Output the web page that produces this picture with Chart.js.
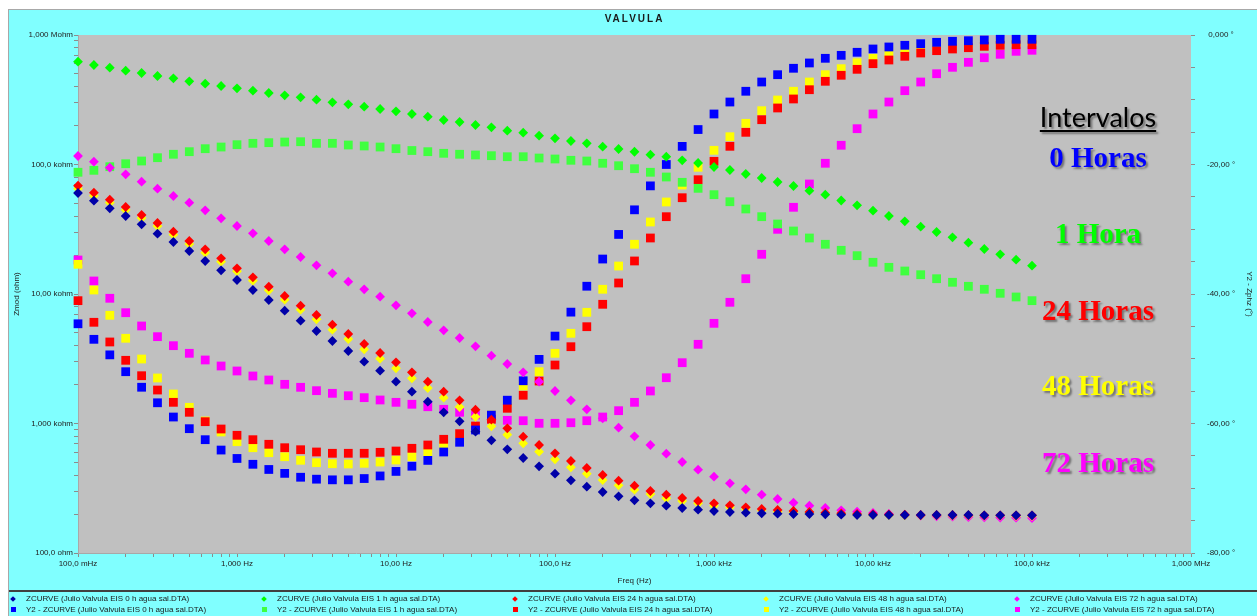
<!DOCTYPE html>
<html>
<head>
<meta charset="utf-8">
<title>VALVULA</title>
<script src="https://cdn.jsdelivr.net/npm/chart.js@4.4.1/dist/chart.umd.min.js"></script>
<style>
  html, body { margin: 0; padding: 0; background: #fff; }
  body { width: 1257px; height: 616px; position: relative; overflow: hidden; font-family: "Liberation Sans", Arial, sans-serif; }
  #frame { position: absolute; left: 8px; top: 9px; width: 1260px; height: 620px; background: #80ffff; border: 1px solid #a8a8a8; }
  #chart { position: absolute; left: 0; top: 0; }
  #sep { position: absolute; left: 9px; top: 590px; width: 1248px; height: 2px; background: #404040; }
  #legend { position: absolute; left: 0; top: 0; width: 1257px; height: 616px; pointer-events: none; }
  .txt { position: absolute; font-size: 8px; line-height: 10px; color: #1a1a1a; white-space: nowrap; }
  .mk { position: absolute; }
</style>
</head>
<body>
<div id="frame"></div>
<canvas id="chart" width="1257" height="591"></canvas>
<div id="sep"></div>
<div id="legend"></div>
<script>
// EIS sweep, 10 points per decade, 0.1 Hz .. 100 kHz
const freqHz = [0.1, 0.1259, 0.1585, 0.1995, 0.2512, 0.3162, 0.3981, 0.5012, 0.631, 0.7943,
  1, 1.259, 1.585, 1.995, 2.512, 3.162, 3.981, 5.012, 6.31, 7.943,
  10, 12.59, 15.85, 19.95, 25.12, 31.62, 39.81, 50.12, 63.1, 79.43,
  100, 125.9, 158.5, 199.5, 251.2, 316.2, 398.1, 501.2, 631, 794.3,
  1000, 1259, 1585, 1995, 2512, 3162, 3981, 5012, 6310, 7943,
  10000, 12589, 15849, 19953, 25119, 31623, 39811, 50119, 63096, 79433, 100000];

// |Z| in ohm
const zmod0h = [60250, 52540, 45890, 40020, 34520, 29210, 25200, 21480, 17980, 15240, 12830,
  10740, 8988, 7430, 6220, 5179, 4336, 3629, 3001, 2557, 2102,
  1761, 1474, 1220, 1040, 864.5, 742, 632, 541.5, 467.1, 409.7,
  364.2, 325.1, 295.8, 274, 255.2, 242, 231.9, 222.6, 216, 211,
  207.3, 204.8, 202.6, 201.2, 200.1, 200.1, 199.1, 197.7, 196.6, 196.6,
  196.6, 196.6, 196.6, 196.6, 196.6, 196.6, 195.5, 195.5, 195.5, 195.5];
const zmod1h = [622000, 586600, 559200, 530000, 508900, 482400, 463000, 439000, 420600, 403800, 387700,
  371500, 356600, 342400, 330400, 316500, 302200, 291700, 279500, 268300, 257600,
  245500, 234000, 220600, 212900, 201800, 193800, 182400, 176100, 166900, 159400,
  151900, 145800, 137200, 131700, 125500, 119100, 114900, 107700, 102700, 95660,
  90670, 84460, 78660, 73260, 68230, 62770, 58460, 52720, 48410, 43980,
  40020, 36420, 33090, 30120, 27400, 24900, 22260, 20260, 18400, 16540];
const zmod24h = [68590, 60570, 53480, 46960, 40740, 35340, 30280, 25660, 22140, 18870, 15790,
  13460, 11390, 9652, 8122, 6883, 5794, 4910, 4111, 3503, 2969,
  2486, 2102, 1761, 1511, 1278, 1070, 918.3, 790.9, 682.3, 588.8,
  513.3, 453.3, 400.2, 361.6, 330.9, 301.2, 282, 265.9, 252, 242,
  233.5, 225.4, 218.7, 214.8, 211, 207.3, 204.8, 202.6, 200.1, 199.1,
  198.4, 197.7, 196.6, 196.6, 196.6, 195.9, 195.5, 195.5, 195.5, 195.5];
const zmod48h = [65030, 57420, 50700, 44530, 38630, 33500, 28700, 24330, 20840, 17760, 14980,
  12670, 10680, 9036, 7565, 6376, 5300, 4494, 3741, 3166, 2669,
  2234, 1880, 1582, 1341, 1128, 951.5, 819.4, 703.2, 605.7, 529.2,
  459, 409.7, 366.2, 333.3, 308.2, 285.5, 264.5, 252, 242, 231.9,
  225.4, 218.7, 213.6, 208.4, 206.2, 203.7, 201.2, 199.1, 197.7, 196.6,
  195.9, 195.5, 194.9, 194.9, 194.1, 194.1, 193.8, 193.8, 193.1, 193.1];
const zmod72h = [116300, 105100, 94470, 84020, 73650, 65030, 57120, 50700, 44300, 38430, 33500,
  29420, 25660, 22140, 19310, 16660, 14450, 12450, 10870, 9533, 8178,
  7096, 6078, 5244, 4574, 3946, 3339, 2880, 2486, 2102, 1782,
  1511, 1287, 1097, 928.3, 796.6, 682.3, 584.6, 504.3, 439.8, 388.3,
  345.2, 310.4, 282, 261.2, 244.6, 231.9, 222.6, 213.6, 208.4, 203.7,
  200.1, 196.6, 194.1, 192.1, 190.7, 189.7, 188.7, 188, 187.4, 186.3];

// phase in degrees
const phase0h = [-44.6, -47.0, -49.4, -52.0, -54.4, -56.8, -59.0, -60.8, -62.5, -64.1, -65.4,
  -66.3, -67.1, -67.7, -68.3, -68.6, -68.7, -68.7, -68.5, -68.1, -67.4,
  -66.6, -65.7, -64.4, -62.9, -61.0, -58.7, -56.4, -53.4, -50.1, -46.5,
  -42.8, -38.8, -34.6, -30.8, -27.0, -23.3, -20.0, -17.2, -14.6, -12.2,
  -10.35, -8.69, -7.26, -6.13, -5.14, -4.32, -3.6, -3.14, -2.67, -2.16,
  -1.85, -1.59, -1.34, -1.13, -0.97, -0.88, -0.77, -0.66, -0.66, -0.66];
const phase1h = [-21.2, -20.9, -20.34, -19.88, -19.46, -18.95, -18.42, -18.02, -17.56, -17.3, -16.94,
  -16.73, -16.63, -16.53, -16.48, -16.73, -16.73, -16.99, -17.14, -17.3, -17.56,
  -17.84, -18.02, -18.27, -18.42, -18.53, -18.64, -18.8, -18.8, -19.0, -19.15,
  -19.35, -19.46, -19.81, -20.19, -20.65, -21.2, -21.93, -22.75, -23.68, -24.66,
  -25.75, -26.87, -28.06, -29.19, -30.27, -31.35, -32.32, -33.25, -34.08, -35.1,
  -35.88, -36.45, -37.02, -37.64, -38.19, -38.81, -39.27, -39.89, -40.46, -41.03];
const phase24h = [-41.03, -44.37, -47.41, -50.24, -52.62, -54.83, -56.73, -58.27, -59.72, -60.85, -61.82,
  -62.5, -63.21, -63.74, -64.05, -64.4, -64.6, -64.6, -64.6, -64.45, -64.25,
  -63.83, -63.32, -62.44, -61.57, -60.39, -59.35, -57.65, -55.64, -53.44, -50.97,
  -48.14, -45.05, -41.59, -38.3, -34.9, -31.35, -28.06, -25.13, -22.35, -19.51,
  -17.19, -15.03, -13.08, -11.27, -9.88, -8.45, -7.15, -6.22, -5.3, -4.43,
  -3.86, -3.29, -2.78, -2.42, -2.16, -1.96, -1.75, -1.59, -1.5, -1.5];
const phase48h = [-35.41, -39.38, -43.29, -46.84, -50.04, -52.97, -55.44, -57.5, -59.61, -61.31, -62.81,
  -63.74, -64.51, -65.13, -65.68, -66.05, -66.21, -66.25, -66.15, -65.95, -65.64,
  -65.13, -64.35, -63.37, -62.08, -60.54, -58.69, -56.83, -54.21, -52.0, -49.16,
  -46.07, -42.83, -39.27, -35.68, -32.32, -28.88, -25.79, -23.17, -20.43, -17.81,
  -15.71, -13.64, -11.69, -10.04, -8.69, -7.26, -6.13, -5.2, -4.28, -3.6,
  -2.93, -2.52, -2.12, -1.85, -1.59, -1.39, -1.24, -1.13, -1.08, -1.08];
const phase72h = [-34.75, -37.99, -40.66, -42.89, -44.94, -46.59, -47.98, -49.16, -50.19, -51.12, -51.89,
  -52.66, -53.28, -53.95, -54.41, -54.93, -55.34, -55.71, -56.01, -56.37, -56.73,
  -57.03, -57.41, -57.81, -58.27, -58.69, -59.15, -59.51, -59.57, -59.97, -59.97,
  -59.88, -59.57, -59.0, -58.02, -56.73, -54.98, -52.93, -50.61, -47.77, -44.53,
  -41.28, -37.64, -33.87, -30.01, -26.61, -23.01, -19.81, -17.03, -14.47, -12.2,
  -10.35, -8.6, -7.26, -5.98, -4.99, -4.22, -3.51, -2.98, -2.52, -2.36];

const hours = ['0', '1', '24', '48', '72'];
const intervalLabels = ['0 Horas', '1 Hora', '24 Horas', '48 Horas', '72 Horas'];
const xTickLabels = ['100,0 mHz', '1,000 Hz', '10,00 Hz', '100,0 Hz', '1,000 kHz', '10,00 kHz', '100,0 kHz', '1,000 MHz'];
const zTickLabels = ['100,0 ohm', '1,000 kohm', '10,00 kohm', '100,0 kohm', '1,000 Mohm'];
const phaseTickLabels = ['-80,00 °', '-60,00 °', '-40,00 °', '-20,00 °', '0,000 °'];

const zmodSets = [zmod0h, zmod1h, zmod24h, zmod48h, zmod72h];
const phaseSets = [phase0h, phase1h, phase24h, phase48h, phase72h];
const zColors = ['#0000a8', '#00ff00', '#ff0000', '#ffff00', '#ff00ff'];
const phColors = ['#0000ff', '#40ff40', '#ff0000', '#ffff00', '#ff00ff'];
const textColors = ['#0000ff', '#00ff00', '#ff0000', '#ffff00', '#ff00ff'];

Chart.defaults.font.family = '"Liberation Sans", Arial, sans-serif';
Chart.defaults.font.size = 8;
Chart.defaults.color = '#222222';

function fileName(h) {
  return '(Julio Valvula EIS ' + h + ' h agua sal.DTA)';
}

function series(values, label, color, style, radius, axis) {
  return {
    label: label,
    data: freqHz.map((f, i) => ({ x: f, y: values[i] })),
    yAxisID: axis,
    showLine: false,
    pointStyle: style,
    pointRadius: radius,
    pointHoverRadius: radius,
    pointBackgroundColor: color,
    pointBorderColor: color,
    pointBorderWidth: 0,
    backgroundColor: color,
    borderColor: color,
    clip: false
  };
}

// first dataset ends up on top, so |Z| diamonds go first, then phase squares
const datasets = [];
hours.forEach((h, i) => {
  datasets.push(series(zmodSets[i], 'ZCURVE ' + fileName(h), zColors[i], 'rectRot', 4.9, 'y'));
});
hours.forEach((h, i) => {
  datasets.push(series(phaseSets[i], 'Y2 - ZCURVE ' + fileName(h), phColors[i], 'rect', 6.2, 'y2'));
});

function logTicks(lo, hi) {
  const out = [];
  for (let e = lo; e < hi; e++) {
    for (let m = 1; m <= 9; m++) out.push({ value: m * Math.pow(10, e) });
  }
  out.push({ value: Math.pow(10, hi) });
  return out;
}

function decadeIndex(v) {
  const e = Math.log10(v);
  const r = Math.round(e);
  return Math.abs(e - r) < 1e-6 ? r : null;
}

const plotBackground = {
  id: 'plotBackground',
  beforeDraw(chart) {
    const { ctx, chartArea: a } = chart;
    ctx.save();
    ctx.fillStyle = '#c0c0c0';
    ctx.fillRect(a.left, a.top, a.right - a.left, a.bottom - a.top);
    ctx.restore();
  }
};

const chartTitle = {
  id: 'chartTitle',
  afterDraw(chart) {
    const { ctx, chartArea: a } = chart;
    ctx.save();
    ctx.font = 'bold 10px "Liberation Sans", Arial, sans-serif';
    ctx.letterSpacing = '2px';
    ctx.fillStyle = '#1a1a1a';
    ctx.textAlign = 'center';
    ctx.textBaseline = 'middle';
    ctx.fillText('VALVULA', (a.left + a.right) / 2, 19);
    ctx.restore();
  }
};

// "Intervalos" key drawn inside the plot, right side
const intervalKey = {
  id: 'intervalKey',
  afterDatasetsDraw(chart) {
    const { ctx, chartArea: a } = chart;
    const cx = a.right - 93;
    ctx.save();
    ctx.shadowColor = 'rgba(0,0,0,0.4)';
    ctx.shadowOffsetX = 2;
    ctx.shadowOffsetY = 2;
    ctx.shadowBlur = 2;
    ctx.textAlign = 'center';
    ctx.textBaseline = 'alphabetic';

    ctx.font = '27px Lato, "Open Sans", sans-serif';
    ctx.fillStyle = '#000';
    const head = 'Intervalos';
    const hy = a.top + 92;
    ctx.fillText(head, cx, hy);
    const w = ctx.measureText(head).width;
    ctx.fillRect(cx - w / 2, hy + 3, w, 2);

    ctx.font = 'bold 29px "Liberation Serif", "Times New Roman", serif';
    const rows = [132, 208, 285, 360, 437];
    intervalLabels.forEach((t, i) => {
      ctx.fillStyle = textColors[i];
      ctx.fillText(t, cx, a.top + rows[i]);
    });
    ctx.restore();
  }
};

new Chart(document.getElementById('chart'), {
  type: 'scatter',
  data: { datasets: datasets },
  options: {
    responsive: false,
    animation: false,
    events: [],
    layout: { autoPadding: false, padding: { top: 35, left: 0, right: 0, bottom: 0 } },
    plugins: {
      legend: { display: false },
      tooltip: { enabled: false },
      title: { display: false }
    },
    scales: {
      x: {
        type: 'logarithmic',
        min: 0.1,
        max: 1e6,
        afterFit(s) { s.height = 38; },
        afterBuildTicks(s) { s.ticks = logTicks(-1, 6); },
        grid: { drawOnChartArea: false, tickLength: 4, color: '#8c8c8c' },
        border: { color: '#a8a8a8' },
        ticks: {
          autoSkip: false, maxRotation: 0, minRotation: 0, padding: 2,
          callback(v) {
            const d = decadeIndex(v);
            return d === null ? '' : xTickLabels[d + 1];
          }
        },
        title: { display: true, text: 'Freq (Hz)', padding: { top: 0, bottom: 5 } }
      },
      y: {
        type: 'logarithmic',
        position: 'left',
        min: 100,
        max: 1e6,
        afterFit(s) { s.width = 78; },
        afterBuildTicks(s) { s.ticks = logTicks(2, 6); },
        grid: { drawOnChartArea: false, tickLength: 4, color: '#8c8c8c' },
        border: { color: '#a8a8a8' },
        ticks: {
          autoSkip: false, padding: 1,
          callback(v) {
            const d = decadeIndex(v);
            return d === null ? '' : zTickLabels[d - 2];
          }
        },
        title: { display: true, text: 'Zmod (ohm)', padding: { top: 12, bottom: 0 } }
      },
      y2: {
        type: 'linear',
        position: 'right',
        min: -80,
        max: 0,
        afterFit(s) { s.width = 66; },
        grid: { drawOnChartArea: false, tickLength: 4, color: '#8c8c8c' },
        border: { display: false },
        ticks: {
          stepSize: 5, autoSkip: false, padding: 12, crossAlign: 'center',
          callback(v) {
            return v % 20 === 0 ? phaseTickLabels[(v + 80) / 20] : '';
          }
        },
        title: { display: true, text: 'Y2 - Zphz (°)', padding: { top: 3, bottom: 0 } }
      }
    }
  },
  plugins: [plotBackground, chartTitle, intervalKey]
});

// two-row legend under the separator line, one column per test file
const legend = document.getElementById('legend');
hours.forEach((h, c) => {
  const rows = [
    { text: 'ZCURVE ' + fileName(h), color: zColors[c], diamond: true },
    { text: 'Y2 - ZCURVE ' + fileName(h), color: phColors[c], diamond: false }
  ];
  rows.forEach((r, k) => {
    const cy = 599 + k * 10.5;
    const mk = document.createElement('div');
    mk.className = 'mk';
    const s = r.diamond ? 4 : 5;
    mk.style.width = s + 'px';
    mk.style.height = s + 'px';
    mk.style.left = (13 + 251 * c - s / 2) + 'px';
    mk.style.top = (cy - s / 2) + 'px';
    mk.style.background = r.color;
    if (r.diamond) mk.style.transform = 'rotate(45deg)';
    legend.appendChild(mk);
    const t = document.createElement('div');
    t.className = 'txt';
    t.textContent = r.text;
    t.style.left = (26 + 251 * c) + 'px';
    t.style.top = (cy - 5) + 'px';
    legend.appendChild(t);
  });
});
</script>
</body>
</html>
